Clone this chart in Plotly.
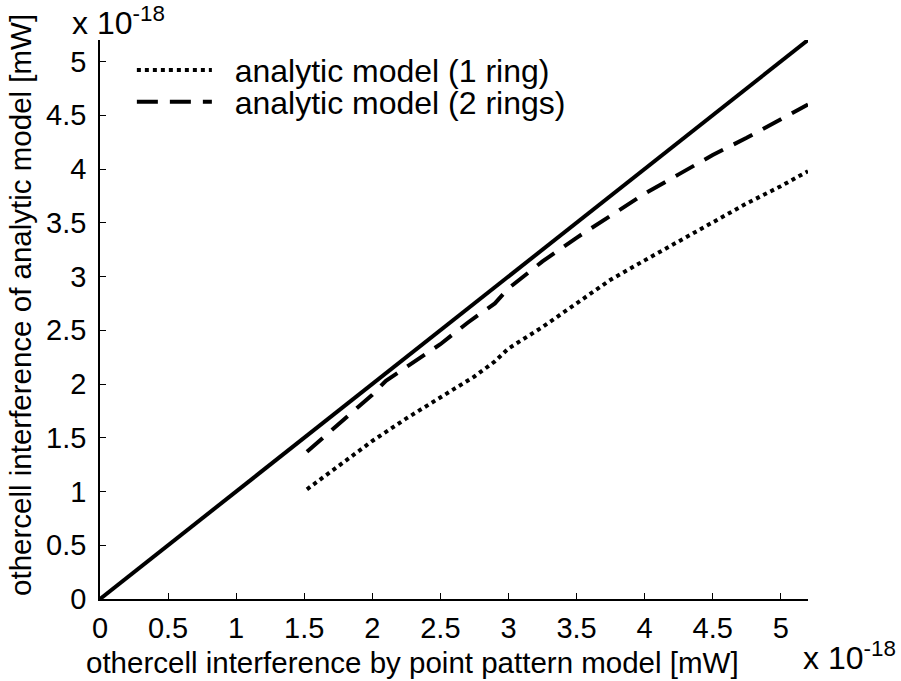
import plotly.graph_objects as go

# Data (units of 1e-18 mW)
ref_x = [0.0, 5.2]
ref_y = [0.0, 5.2]

ring1_x = [1.52, 1.75, 2.0, 2.25, 2.5, 2.75, 2.9, 3.0, 3.25, 3.5, 3.75, 4.0, 4.25, 4.5, 4.75, 5.0, 5.2]
ring1_y = [1.02, 1.24, 1.47, 1.68, 1.88, 2.07, 2.21, 2.33, 2.53, 2.75, 2.97, 3.15, 3.33, 3.50, 3.68, 3.84, 3.98]

ring2_x = [1.52, 1.75, 2.0, 2.1, 2.3, 2.5, 2.7, 2.9, 3.0, 3.25, 3.5, 3.75, 4.0, 4.25, 4.5, 4.75, 5.0, 5.2]
ring2_y = [1.37, 1.62, 1.90, 2.03, 2.20, 2.37, 2.57, 2.75, 2.89, 3.14, 3.36, 3.57, 3.77, 3.95, 4.13, 4.29, 4.46, 4.60]

tick_vals = [0, 0.5, 1, 1.5, 2, 2.5, 3, 3.5, 4, 4.5, 5]
tick_text = ["0", "0.5", "1", "1.5", "2", "2.5", "3", "3.5", "4", "4.5", "5"]

FONT = "Liberation Sans, Arial, sans-serif"
FS_TICK = 29
FS_TITLE = 29.5
FS_BIG = 32

fig = go.Figure()
fig.add_trace(go.Scatter(x=ref_x, y=ref_y, mode="lines", showlegend=False,
                         line=dict(color="black", width=4)))
fig.add_trace(go.Scatter(x=ring1_x, y=ring1_y, mode="lines", legend="legend",
                         name="\u00a0\u00a0analytic model (1 ring)",
                         line=dict(color="black", width=4, dash="4px,4px")))
fig.add_trace(go.Scatter(x=ring2_x, y=ring2_y, mode="lines", legend="legend2",
                         name="\u00a0\u00a0analytic model (2 rings)",
                         line=dict(color="black", width=4, dash="21px,12px")))

axis_common = dict(
    range=[0, 5.2], tickvals=tick_vals, ticktext=tick_text,
    ticks="inside", ticklen=6, tickwidth=1.2, tickcolor="black",
    showline=True, linecolor="black", linewidth=1.5,
    showgrid=False, zeroline=False, mirror=False,
    tickfont=dict(family=FONT, size=FS_TICK, color="black"),
    fixedrange=True,
)

legend_common = dict(xanchor="left", yanchor="middle", bgcolor="rgba(0,0,0,0)",
                     font=dict(family=FONT, size=FS_BIG, color="black"),
                     itemwidth=75, borderwidth=0)

fig.update_layout(
    width=901, height=681,
    margin=dict(l=100, r=93, t=40, b=82),
    paper_bgcolor="white", plot_bgcolor="white",
    font=dict(family=FONT, color="black"),
    xaxis=dict(**axis_common, ticklabelstandoff=2),
    yaxis=dict(**axis_common, ticklabelstandoff=6),
    legend=dict(x=0.045, y=0.946, **legend_common),
    legend2=dict(x=0.045, y=0.889, **legend_common),
    annotations=[
        dict(text="x 10<sup>-18</sup>", xref="paper", yref="paper", x=-0.042, y=0.994,
             xanchor="left", yanchor="bottom", showarrow=False,
             font=dict(family=FONT, size=FS_BIG, color="black")),
        dict(text="x 10<sup>-18</sup>", xref="paper", yref="paper", x=0.990, y=-0.062,
             xanchor="left", yanchor="top", showarrow=False,
             font=dict(family=FONT, size=FS_BIG, color="black")),
        dict(text="othercell interference by point pattern model [mW]", xref="paper", yref="paper",
             x=0.442, y=-0.113, xanchor="center", yanchor="middle", showarrow=False,
             font=dict(family=FONT, size=FS_TITLE, color="black")),
        dict(text="othercell interference of analytic model [mW]", xref="paper", yref="paper",
             x=-0.1116, y=0.526, xanchor="center", yanchor="middle", textangle=-90, showarrow=False,
             font=dict(family=FONT, size=FS_TITLE, color="black")),
    ],
)

fig.write_html("out.html")
